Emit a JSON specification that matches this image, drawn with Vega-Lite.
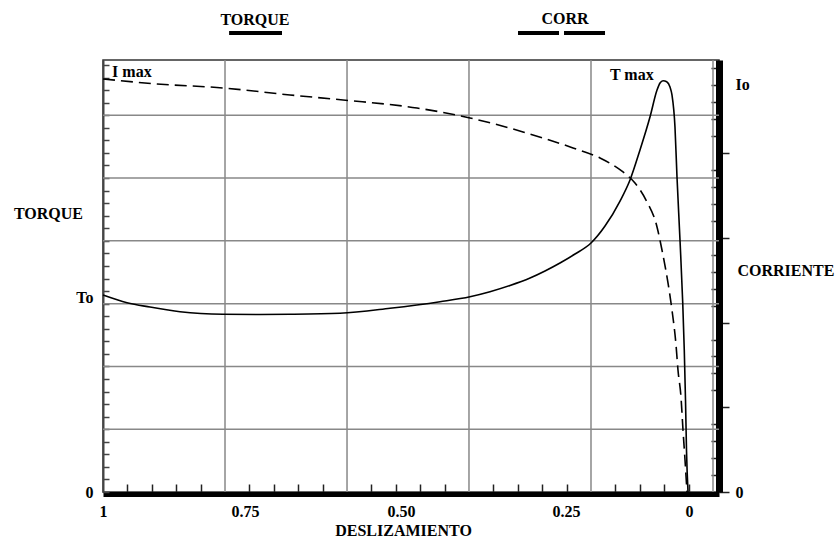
{
  "$schema": "https://vega.github.io/schema/vega-lite/v6.json",
  "width": 616,
  "height": 432,
  "autosize": "none",
  "padding": {"left": 103, "top": 60, "right": 119, "bottom": 48},
  "background": "white",
  "config": {
    "view": {"stroke": "#333", "strokeWidth": 1.5},
    "axis": {
      "labelFont": "Liberation Serif", "labelFontWeight": "bold", "labelFontSize": 16, "labelColor": "black",
      "titleFont": "Liberation Serif", "titleFontWeight": "bold", "titleFontSize": 16, "titleColor": "black"
    },
    "text": {"font": "Liberation Serif", "fontWeight": "bold", "fontSize": 16, "color": "black"}
  },
  "resolve": {"scale": {"y": "independent"}, "axis": {"x": "independent", "y": "independent"}},
  "layer": [
    {
      "data": {"values": [{"s": 0.7852}, {"s": 0.5865}, {"s": 0.397}, {"s": 0.1992}, {"s": -0.0488}]},
      "mark": {"type": "rule", "color": "#888", "strokeWidth": 1.5},
      "encoding": {
        "x": {"field": "s", "type": "quantitative", "scale": {"domain": [1, 0.75, 0.5, 0.25, 0, -0.061], "range": [0, 142, 298, 463, 586, 616], "nice": false, "zero": false}, "axis": null}
      }
    },
    {
      "data": {"values": [{"T": 1}, {"T": 2}, {"T": 3}, {"T": 4}, {"T": 5}, {"T": 6}]},
      "mark": {"type": "rule", "color": "#888", "strokeWidth": 1.5},
      "encoding": {
        "y": {"field": "T", "type": "quantitative", "scale": {"domain": [0, 6.88], "nice": false, "zero": false}, "axis": null}
      }
    },
    {
      "data": {"values": [
        {"s": 1.0, "T": 3.137}, {"s": 0.9577, "T": 3.015}, {"s": 0.9173, "T": 2.946}, {"s": 0.8644, "T": 2.871},
        {"s": 0.7887, "T": 2.830}, {"s": 0.7260, "T": 2.827}, {"s": 0.6779, "T": 2.830}, {"s": 0.5978, "T": 2.846},
        {"s": 0.5176, "T": 2.926}, {"s": 0.4409, "T": 3.031}, {"s": 0.3955, "T": 3.110}, {"s": 0.3652, "T": 3.190},
        {"s": 0.3348, "T": 3.289}, {"s": 0.3045, "T": 3.408}, {"s": 0.2818, "T": 3.520}, {"s": 0.2591, "T": 3.647},
        {"s": 0.2317, "T": 3.790}, {"s": 0.1992, "T": 3.966}, {"s": 0.1707, "T": 4.236}, {"s": 0.1402, "T": 4.634},
        {"s": 0.1199, "T": 4.969}, {"s": 0.0996, "T": 5.447}, {"s": 0.0793, "T": 5.972}, {"s": 0.0650, "T": 6.402},
        {"s": 0.0589, "T": 6.514}, {"s": 0.0528, "T": 6.550}, {"s": 0.0453, "T": 6.534}, {"s": 0.0386, "T": 6.450},
        {"s": 0.0346, "T": 6.323}, {"s": 0.0285, "T": 5.813}, {"s": 0.0244, "T": 5.017}, {"s": 0.0183, "T": 4.013},
        {"s": 0.0128, "T": 3.026}, {"s": 0.0096, "T": 2.261}, {"s": 0.0071, "T": 1.465}, {"s": 0.0051, "T": 0.669},
        {"s": 0.0020, "T": 0}
      ]},
      "mark": {"type": "line", "interpolate": "monotone", "color": "black", "strokeWidth": 1.6},
      "encoding": {
        "x": {
          "field": "s", "type": "quantitative",
          "scale": {"domain": [1, 0.75, 0.5, 0.25, 0, -0.061], "range": [0, 142, 298, 463, 586, 616], "nice": false, "zero": false},
          "axis": {
            "orient": "bottom",
            "title": "DESLIZAMIENTO",
            "values": [1, 0.75, 0.5, 0.25, 0, 0.957, 0.9141, 0.8711, 0.8282, 0.7429, 0.7038, 0.6647, 0.6256, 0.5474, 0.5083, 0.4709, 0.4339, 0.36, 0.323, 0.2861, 0.2488, 0.1496, 0.1, 0.0504, 0.0008],
            "labelExpr": "datum.value == 1 ? '1' : datum.value == 0.75 ? '0.75' : datum.value == 0.5 ? '0.50' : datum.value == 0.25 ? '0.25' : datum.value == 0 ? '0' : ''",
            "labelFlush": false, "labelOverlap": false,
            "grid": false,
            "tickOpacity": {"condition": {"test": "datum.value == 1 || datum.value == 0.75 || datum.value == 0.5 || datum.value == 0.25 || datum.value == 0", "value": 0}, "value": 1},
            "tickSize": -10,
            "tickColor": "#222", "tickWidth": 1.5,
            "domainColor": "black", "domainWidth": 5, "offset": 2,
            "labelPadding": 19,
            "titleX": 300, "titleY": 36, "titleAlign": "center", "titleBaseline": "middle"
          }
        },
        "y": {
          "field": "T", "type": "quantitative",
          "scale": {"domain": [0, 6.88], "nice": false, "zero": false},
          "axis": {
            "orient": "left",
            "title": "TORQUE", "titleAngle": 0, "titleX": -55, "titleY": 153, "titleAlign": "center", "titleBaseline": "middle",
            "values": [0, 0.2, 0.4, 0.6, 0.8, 1, 1.2, 1.4, 1.6, 1.8, 2, 2.2, 2.4, 2.6, 2.8, 3, 3.1, 3.2, 3.4, 3.6, 3.8, 4, 4.2, 4.4, 4.6, 4.8, 5, 5.2, 5.4, 5.6, 5.8, 6, 6.2, 6.4, 6.6, 6.8],
            "labelExpr": "datum.value == 0 ? '0' : datum.value == 3.1 ? 'To' : ''",
            "labelOverlap": false, "labelFlush": false,
            "grid": false,
            "tickOpacity": {"condition": {"test": "datum.value == 3.1", "value": 0}, "value": 1},
            "tickSize": -6,
            "tickColor": "#444", "tickWidth": 1.5,
            "domainColor": "#444", "domainWidth": 2,
            "labelPadding": 16
          }
        }
      }
    },
    {
      "data": {"values": [
        {"s": 1.0, "C": 4.876}, {"s": 0.9049, "C": 4.817}, {"s": 0.7887, "C": 4.770}, {"s": 0.6779, "C": 4.687},
        {"s": 0.5929, "C": 4.628}, {"s": 0.4758, "C": 4.533}, {"s": 0.3955, "C": 4.416}, {"s": 0.3152, "C": 4.251},
        {"s": 0.2358, "C": 4.062}, {"s": 0.1809, "C": 3.943}, {"s": 0.1341, "C": 3.778}, {"s": 0.1098, "C": 3.648},
        {"s": 0.0874, "C": 3.447}, {"s": 0.0650, "C": 3.129}, {"s": 0.0549, "C": 2.857}, {"s": 0.0427, "C": 2.468},
        {"s": 0.0346, "C": 2.149}, {"s": 0.0264, "C": 1.736}, {"s": 0.0224, "C": 1.440}, {"s": 0.0163, "C": 1.122},
        {"s": 0.0122, "C": 0.732}, {"s": 0.0081, "C": 0.378}, {"s": 0.0041, "C": 0}
      ]},
      "mark": {"type": "line", "interpolate": "monotone", "color": "black", "strokeWidth": 1.6, "strokeDash": [12, 6]},
      "encoding": {
        "x": {"field": "s", "type": "quantitative", "scale": {"domain": [1, 0.75, 0.5, 0.25, 0, -0.061], "range": [0, 142, 298, 463, 586, 616], "nice": false, "zero": false}, "axis": null},
        "y": {
          "field": "C", "type": "quantitative",
          "scale": {"domain": [0, 5.1], "nice": false, "zero": false},
          "axis": {
            "orient": "right",
            "title": "CORRIENTE", "titleAngle": 0, "titleX": 18, "titleY": 210, "titleAlign": "left", "titleBaseline": "middle",
            "values": [0, 0.2, 0.4, 0.6, 0.8, 1, 1.2, 1.4, 1.6, 1.8, 2, 2.2, 2.4, 2.6, 2.8, 3, 3.2, 3.4, 3.6, 3.8, 4, 4.2, 4.4, 4.6, 4.8, 4.81, 5],
            "labelExpr": "datum.value == 0 ? '0' : datum.value == 4.81 ? 'Io' : ''",
            "labelOverlap": false, "labelFlush": false, "labelAlign": "left",
            "grid": false,
            "tickSize": {"condition": {"test": "datum.value == 4.81 || (datum.value <= 4.01 && abs(datum.value - round(datum.value)) < 0.001)", "value": 10}, "value": -8},
            "tickOpacity": {"condition": {"test": "datum.value == 4.81", "value": 0}, "value": 1},
            "tickColor": "#222", "tickWidth": 1.5,
            "domainColor": "black", "domainWidth": 7,
            "labelPadding": 6
          }
        }
      }
    },
    {
      "data": {"values": [{}]},
      "mark": {"type": "text", "align": "left", "baseline": "middle"},
      "encoding": {
        "x": {"datum": 0.984, "type": "quantitative", "scale": {"domain": [1, 0.75, 0.5, 0.25, 0, -0.061], "range": [0, 142, 298, 463, 586, 616], "nice": false, "zero": false}, "axis": null},
        "y": {"datum": 6.689, "type": "quantitative", "scale": {"domain": [0, 6.88], "nice": false, "zero": false}, "axis": null},
        "text": {"value": "I max"}
      }
    },
    {
      "data": {"values": [{}]},
      "mark": {"type": "text", "align": "left", "baseline": "middle"},
      "encoding": {
        "x": {"datum": 0.1606, "type": "quantitative", "scale": {"domain": [1, 0.75, 0.5, 0.25, 0, -0.061], "range": [0, 142, 298, 463, 586, 616], "nice": false, "zero": false}, "axis": null},
        "y": {"datum": 6.641, "type": "quantitative", "scale": {"domain": [0, 6.88], "nice": false, "zero": false}, "axis": null},
        "text": {"value": "T max"}
      }
    },
    {
      "data": {"values": [{}]},
      "mark": {"type": "text", "align": "center", "baseline": "middle"},
      "encoding": {
        "x": {"datum": 0.734, "type": "quantitative", "scale": {"domain": [1, 0.75, 0.5, 0.25, 0, -0.061], "range": [0, 142, 298, 463, 586, 616], "nice": false, "zero": false}, "axis": null},
        "y": {"datum": 7.517, "type": "quantitative", "scale": {"domain": [0, 6.88], "nice": false, "zero": false}, "axis": null},
        "text": {"value": "TORQUE"}
      }
    },
    {
      "data": {"values": [{}]},
      "mark": {"type": "text", "align": "center", "baseline": "middle"},
      "encoding": {
        "x": {"datum": 0.2515, "type": "quantitative", "scale": {"domain": [1, 0.75, 0.5, 0.25, 0, -0.061], "range": [0, 142, 298, 463, 586, 616], "nice": false, "zero": false}, "axis": null},
        "y": {"datum": 7.533, "type": "quantitative", "scale": {"domain": [0, 6.88], "nice": false, "zero": false}, "axis": null},
        "text": {"value": "CORR"}
      }
    },
    {
      "data": {"values": [{}]},
      "mark": {"type": "rule", "color": "black", "strokeWidth": 4, "strokeCap": "butt"},
      "encoding": {
        "x": {"datum": 0.778, "type": "quantitative", "scale": {"domain": [1, 0.75, 0.5, 0.25, 0, -0.061], "range": [0, 142, 298, 463, 586, 616], "nice": false, "zero": false}, "axis": null},
        "x2": {"datum": 0.6907},
        "y": {"datum": 7.31, "type": "quantitative", "scale": {"domain": [0, 6.88], "nice": false, "zero": false}, "axis": null}
      }
    },
    {
      "data": {"values": [{}]},
      "mark": {"type": "rule", "color": "black", "strokeWidth": 4, "strokeCap": "butt", "strokeDash": [41, 5]},
      "encoding": {
        "x": {"datum": 0.3227, "type": "quantitative", "scale": {"domain": [1, 0.75, 0.5, 0.25, 0, -0.061], "range": [0, 142, 298, 463, 586, 616], "nice": false, "zero": false}, "axis": null},
        "x2": {"datum": 0.1687},
        "y": {"datum": 7.31, "type": "quantitative", "scale": {"domain": [0, 6.88], "nice": false, "zero": false}, "axis": null}
      }
    }
  ]
}
